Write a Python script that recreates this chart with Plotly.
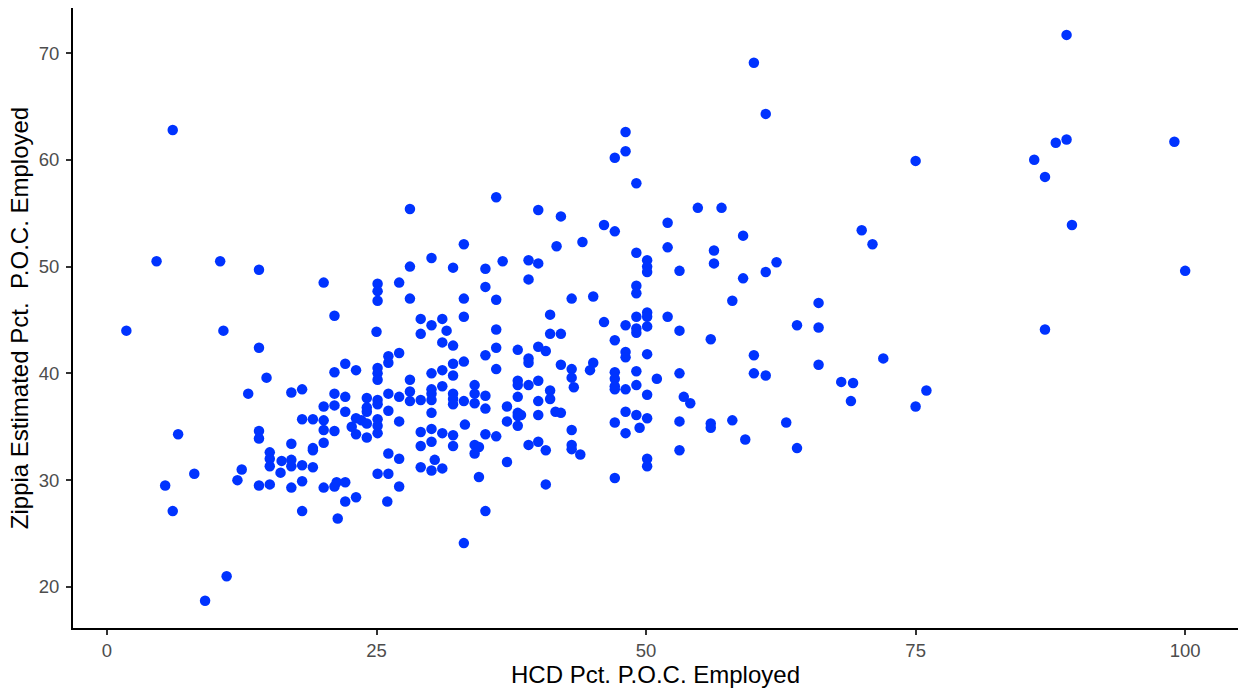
import plotly.graph_objects as go

hcd_pct = [
    6.1, 4.6, 10.5, 14.1, 1.8, 10.8, 14.1, 14.8, 13.1, 17.1, 18.1, 18.1, 6.6, 14.1, 14.1, 17.1, 15.1, 15.1, 15.1, 16.2,
    17.1, 17.1, 18.1, 16.1, 8.1, 12.5, 12.1, 5.4, 14.1, 15.1, 17.1, 18.1, 6.1, 18.1, 11.1, 9.1,
    28.1, 30.1, 28.1, 20.1, 25.1, 25.1, 25.1, 27.1, 28.1, 21.1, 29.1, 30.1, 29.1, 25.0, 27.1, 26.1, 26.1, 22.1, 23.1, 21.1,
    25.1, 25.1, 25.1, 28.1, 30.1, 21.1, 22.1, 26.1, 27.1, 28.1, 28.1, 29.1, 30.1, 30.1, 30.1, 24.1, 25.1, 25.1, 20.1, 21.1,
    24.1, 24.1, 22.1, 26.1, 30.1, 19.1, 20.1, 23.1, 23.6, 25.1, 25.1, 27.1, 22.7, 24.1, 20.1, 21.1, 23.1, 24.1, 25.1, 29.1,
    30.1, 30.1, 29.1, 19.1, 19.1, 20.1, 26.1, 27.1, 19.1, 29.1, 30.1, 30.4, 25.1, 26.1, 20.1, 21.1, 21.3, 22.1, 27.1, 22.1,
    23.1, 26.0, 21.4,
    36.1, 40.0, 42.1, 33.1, 41.7, 32.1, 35.1, 36.7, 39.1, 40.0, 39.1, 35.1, 33.1, 36.1, 33.1, 41.1, 31.1, 31.5, 31.1, 32.1,
    36.1, 41.1, 42.1, 36.1, 35.1, 38.1, 40.0, 40.7, 39.1, 39.1, 42.1, 33.1, 32.1, 36.1, 31.1, 32.1, 38.1, 38.1, 40.0, 39.1,
    31.1, 34.1, 34.1, 34.1, 35.1, 35.1, 32.1, 32.1, 32.1, 33.1, 38.1, 40.0, 41.1, 41.1, 37.1, 38.1, 38.1, 38.4, 38.1, 37.1,
    40.0, 41.6, 42.1, 33.2, 31.1, 32.1, 32.1, 35.1, 36.1, 34.1, 34.5, 34.1, 39.1, 40.0, 40.7, 31.1, 37.1, 34.5, 40.7, 35.1,
    33.1,
    48.1, 48.1, 47.1, 49.1, 54.8, 57.0, 46.1, 47.1, 52.0, 44.1, 52.0, 56.3, 56.3, 49.1, 50.1, 50.1, 50.1, 53.1, 49.1, 49.1,
    43.1, 45.1, 46.1, 48.1, 49.1, 49.1, 49.1, 50.1, 50.1, 50.1, 52.0, 53.1, 47.1, 56.0, 48.1, 48.1, 50.1, 43.1, 43.1, 43.3,
    45.1, 44.8, 47.1, 47.1, 47.1, 47.1, 48.1, 49.1, 49.1, 51.0, 53.1, 50.1, 53.5, 54.1, 48.1, 49.1, 49.4, 50.1, 47.1, 48.1,
    53.1, 56.0, 56.0, 43.1, 43.1, 43.1, 43.9, 53.1, 50.1, 50.1, 47.1,
    60.0, 61.1, 75.0, 70.0, 71.0, 59.0, 62.1, 61.1, 59.0, 58.0, 66.0, 64.0, 66.0, 60.0, 60.0, 61.1, 66.0, 72.0, 68.1, 69.2,
    69.0, 76.0, 75.0, 58.0, 59.2, 63.0, 64.0,
    89.0, 88.0, 89.0, 99.0, 86.0, 87.0, 89.5, 100.0, 87.0,
]

zippia_pct = [
    62.8, 50.5, 50.5, 49.7, 44.0, 44.0, 42.4, 39.6, 38.1, 38.2, 38.5, 35.7, 34.3, 34.6, 33.9, 33.4, 32.6, 32.0, 31.3, 31.8,
    31.9, 31.3, 31.4, 30.7, 30.6, 31.0, 30.0, 29.5, 29.5, 29.6, 29.3, 29.9, 27.1, 27.1, 21.0, 18.7,
    55.4, 50.8, 50.0, 48.5, 48.4, 47.7, 46.8, 48.5, 47.0, 45.4, 45.1, 44.5, 43.7, 43.9, 41.9, 41.6, 41.0, 40.9, 40.3, 40.1,
    40.5, 40.0, 39.4, 39.4, 40.0, 38.1, 37.8, 38.1, 37.8, 38.3, 37.4, 37.5, 38.5, 38.1, 37.5, 37.7, 37.5, 37.1, 36.9, 37.0,
    36.8, 36.4, 36.4, 36.5, 36.3, 35.7, 35.6, 35.8, 35.6, 35.7, 35.1, 35.5, 35.0, 35.3, 34.7, 34.6, 34.3, 34.0, 34.4, 34.5,
    34.8, 33.6, 33.2, 33.0, 32.8, 33.5, 32.5, 32.0, 31.2, 31.2, 30.9, 31.9, 30.6, 30.6, 29.3, 29.4, 29.8, 29.8, 29.4, 28.0,
    28.4, 28.0, 26.4,
    56.5, 55.3, 54.7, 52.1, 51.9, 49.9, 49.8, 50.5, 50.6, 50.3, 48.8, 48.1, 47.0, 46.9, 45.3, 45.5, 45.1, 44.0, 42.9, 42.6,
    44.1, 43.7, 43.7, 42.4, 41.7, 42.2, 42.5, 42.1, 41.4, 41.0, 40.8, 41.1, 40.9, 40.4, 40.3, 39.8, 39.3, 38.9, 39.3, 38.9,
    38.8, 38.9, 38.1, 37.2, 37.9, 36.7, 38.1, 37.6, 37.1, 37.4, 37.8, 37.4, 38.4, 37.6, 36.9, 36.3, 36.0, 36.1, 35.1, 35.5,
    36.1, 36.4, 36.3, 35.2, 34.4, 34.2, 33.2, 34.3, 34.1, 33.3, 33.1, 32.5, 33.3, 33.6, 32.8, 31.1, 31.7, 30.3, 29.6, 27.1,
    24.1,
    62.6, 60.8, 60.2, 57.8, 55.5, 55.5, 53.9, 53.3, 54.1, 52.3, 51.8, 51.5, 50.3, 51.3, 50.6, 50.0, 49.5, 49.6, 48.2, 47.5,
    47.0, 47.2, 44.8, 44.5, 45.3, 44.2, 43.8, 45.7, 45.3, 44.4, 45.3, 44.0, 43.1, 43.2, 42.0, 41.5, 41.8, 40.4, 39.6, 38.7,
    41.0, 40.3, 40.1, 39.5, 38.8, 38.5, 38.5, 40.2, 38.9, 39.5, 40.0, 38.0, 37.8, 37.2, 36.4, 36.1, 34.9, 35.8, 35.4, 34.4,
    35.5, 35.3, 34.9, 34.7, 33.3, 32.9, 32.4, 32.8, 32.0, 31.3, 30.2,
    69.1, 64.3, 59.9, 53.4, 52.1, 52.9, 50.4, 49.5, 48.9, 46.8, 46.6, 44.5, 44.3, 41.7, 40.0, 39.8, 40.8, 41.4, 39.2, 39.1,
    37.4, 38.4, 36.9, 35.6, 33.8, 35.4, 33.0,
    71.7, 61.6, 61.9, 61.7, 60.0, 58.4, 53.9, 49.6, 44.1,
]

x_ticks = [0, 25, 50, 75, 100]
y_ticks = [20, 30, 40, 50, 60, 70]

FONT = "Liberation Sans, Arial, sans-serif"

fig = go.Figure(
    go.Scatter(
        x=hcd_pct,
        y=zippia_pct,
        mode="markers",
        marker=dict(color="#0033ff", size=10.5, line=dict(width=0)),
        hoverinfo="x+y",
    )
)

axis_common = dict(
    showgrid=False,
    zeroline=False,
    showline=True,
    linecolor="black",
    linewidth=2,
    ticks="outside",
    ticklen=5,
    tickwidth=1.8,
    tickcolor="#333333",
    tickfont=dict(family=FONT, size=18.5, color="#4d4d4d"),
    automargin=False,
)

fig.update_layout(
    width=1239,
    height=694,
    margin=dict(l=73, r=1, t=8, b=66),
    paper_bgcolor="white",
    plot_bgcolor="white",
    showlegend=False,
    xaxis=dict(
        range=[-3.15, 104.9],
        tickvals=x_ticks,
        ticklabelstandoff=0,
        title=dict(text="HCD Pct. P.O.C. Employed", standoff=4,
                   font=dict(family=FONT, size=24, color="black")),
        **axis_common,
    ),
    yaxis=dict(
        range=[16.15, 74.22],
        tickvals=y_ticks,
        ticklabelstandoff=3,
        title=dict(text="Zippia Estimated Pct.\u00a0 P.O.C. Employed", standoff=3,
                   font=dict(family=FONT, size=24, color="black")),
        **axis_common,
    ),
)

fig.write_html("out.html")
